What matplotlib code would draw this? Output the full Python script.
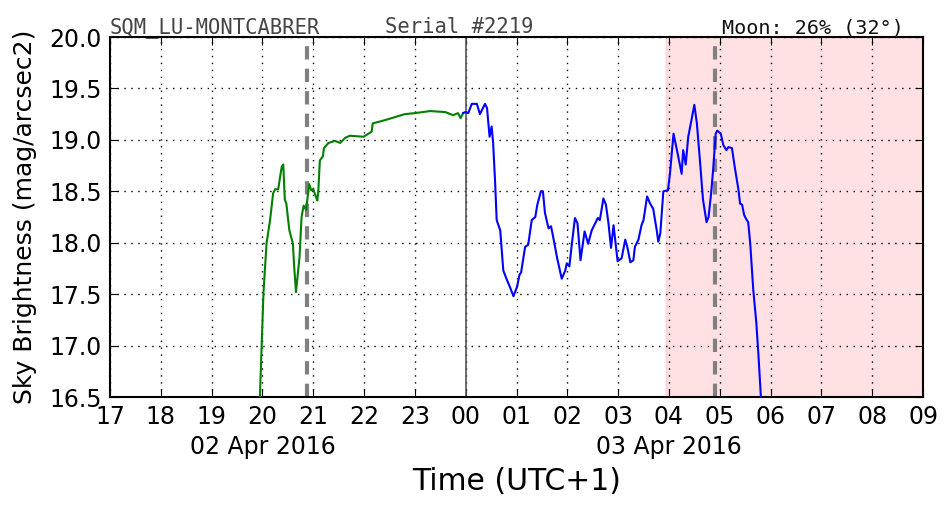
import matplotlib
matplotlib.use("Agg")
import matplotlib.pyplot as plt

# hours since 00:00 of 02 Apr 2016 (24 = midnight)
green_t = [19.95, 20.02, 20.08, 20.15, 20.21, 20.25, 20.31, 20.38, 20.41, 20.44, 20.47, 20.53, 20.60, 20.62,
           20.66, 20.73, 20.77, 20.81, 20.86, 20.92, 20.96, 21.00, 21.05, 21.08, 21.10, 21.13, 21.19, 21.21,
           21.30, 21.43, 21.53, 21.63, 21.72, 21.99, 22.15, 22.17, 22.40, 22.80, 23.00, 23.30, 23.60, 23.75,
           23.85, 23.90, 23.95]
green_m = [16.50, 17.51, 17.99, 18.22, 18.48, 18.52, 18.52, 18.74, 18.76, 18.42, 18.38, 18.12, 17.99, 17.80,
           17.52, 17.86, 18.25, 18.36, 18.32, 18.57, 18.51, 18.52, 18.45, 18.41, 18.51, 18.80, 18.84, 18.92,
           18.97, 18.99, 18.97, 19.02, 19.04, 19.03, 19.08, 19.16, 19.19, 19.25, 19.26, 19.28, 19.27, 19.24,
           19.26, 19.21, 19.26]

blue_t = [23.95, 23.99, 24.05, 24.12, 24.22, 24.28, 24.38, 24.42, 24.47, 24.51, 24.54, 24.58, 24.61, 24.68,
          24.74, 24.81, 24.87, 24.94, 25.01, 25.06, 25.09, 25.17, 25.23, 25.30, 25.37, 25.41, 25.48, 25.52,
          25.56, 25.63, 25.68, 25.72, 25.80, 25.89, 25.96, 25.99, 26.04, 26.09, 26.15, 26.20, 26.26, 26.34,
          26.41, 26.48, 26.55, 26.60, 26.64, 26.71, 26.76, 26.81, 26.86, 26.91, 26.99, 27.07, 27.14, 27.18,
          27.24, 27.30, 27.33, 27.40, 27.46, 27.50, 27.57, 27.63, 27.69, 27.76, 27.79, 27.83, 27.89, 27.98,
          28.02, 28.09, 28.17, 28.25, 28.28, 28.33, 28.38, 28.45, 28.50, 28.55, 28.61, 28.67, 28.74, 28.78,
          28.83, 28.87, 28.92, 28.95, 29.02, 29.07, 29.13, 29.17, 29.24, 29.30, 29.37, 29.40, 29.44, 29.48,
          29.52, 29.56, 29.60, 29.66, 29.72, 29.76, 29.81]
blue_m = [19.26, 19.27, 19.26, 19.35, 19.35, 19.25, 19.35, 19.31, 19.03, 19.13, 18.97, 18.58, 18.22, 18.12,
          17.73, 17.64, 17.57, 17.48, 17.57, 17.69, 17.71, 17.96, 17.98, 18.22, 18.25, 18.37, 18.50, 18.50,
          18.29, 18.14, 18.16, 18.06, 17.85, 17.65, 17.73, 17.80, 17.77, 17.99, 18.24, 18.19, 17.83, 18.11,
          17.99, 18.12, 18.19, 18.24, 18.22, 18.43, 18.37, 18.19, 17.95, 18.17, 17.82, 17.85, 18.03, 17.96,
          17.81, 17.83, 17.96, 18.03, 18.17, 18.22, 18.45, 18.38, 18.33, 18.12, 18.01, 18.09, 18.50, 18.51,
          18.67, 19.06, 18.87, 18.67, 18.90, 18.76, 19.03, 19.21, 19.34, 19.16, 18.80, 18.42, 18.20, 18.25,
          18.48, 18.71, 19.06, 19.09, 19.06, 18.95, 18.90, 18.93, 18.92, 18.72, 18.51, 18.38, 18.37, 18.27,
          18.23, 18.20, 17.99, 17.54, 17.22, 16.92, 16.50]

xticks = list(range(17, 34))
xtick_labels = ["17", "18", "19", "20", "21", "22", "23", "00", "01", "02", "03", "04", "05", "06", "07", "08", "09"]
yticks = [16.5, 17.0, 17.5, 18.0, 18.5, 19.0, 19.5, 20.0]
date_pos = [20, 28]
date_labels = ["02 Apr 2016", "03 Apr 2016"]
twilight_start = 27.94
sun_lines = [20.88, 28.91]
midnight = 24.0

plt.rcParams['font.family'] = ['DejaVu Sans']
fig = plt.figure(figsize=(9.52, 5.12), dpi=100)
ax = fig.add_axes([110/952, 1-397/512, (923-110)/952, (397-37)/512])

ax.axvspan(twilight_start, 33, color='#ffe1e3', zorder=0, lw=1, ec='#ffd0d0')
ax.plot(green_t, green_m, color='#008000', lw=1.5, zorder=3)
ax.plot(blue_t, blue_m, color='#0000ff', lw=1.5, zorder=3)
for s in sun_lines:
    ax.axvline(s, color='gray', lw=3, ls=(0, (3.2, 2.2)), zorder=2)
ax.axvline(midnight, color='#555555', lw=1.2, zorder=2)

ax.set_xlim(17, 33)
ax.set_ylim(16.5, 20.0)
ax.set_xticks(xticks)
ax.set_xticklabels(xtick_labels)
ax.set_yticks(yticks)
ax.set_yticklabels([f"{v:.1f}" for v in yticks])
ax.grid(True, color='black', ls=(0, (1, 4)), lw=1)
ax.tick_params(direction='in', length=6, top=True, right=True, labelsize=17)
ax.tick_params(axis='x', pad=6)
ax.tick_params(axis='y', pad=6)
for sp in ax.spines.values():
    sp.set_linewidth(1.5)

for p, l in zip(date_pos, date_labels):
    ax.text(p, (397-435)/360, l, transform=ax.get_xaxis_transform(), ha='center', va='top', fontsize=17)

ax.set_xlabel("Time (UTC+1)", fontsize=21.5)
ax.xaxis.label.set_va('baseline')
ax.xaxis.set_label_coords(0.5, (397-490)/360)
ax.set_ylabel("Sky Brightness (mag/arcsec2)", fontsize=18)
ax.yaxis.set_label_coords((37-110)/813, 0.5)

fig.text(110/952, 1-33/512, "SQM_LU-MONTCABRER", family='DejaVu Sans Mono', fontsize=14.8, color='#444444', va='baseline')
fig.text(385/952, 1-33/512, "Serial #2219", family='DejaVu Sans Mono', fontsize=14.8, color='#444444', va='baseline')
fig.text(904/952, 1-33/512, "Moon: 26% (32°)", family='DejaVu Sans Mono', fontsize=14.5, color='#111111', va='baseline', ha='right')

fig.savefig("out.png", dpi=100)
